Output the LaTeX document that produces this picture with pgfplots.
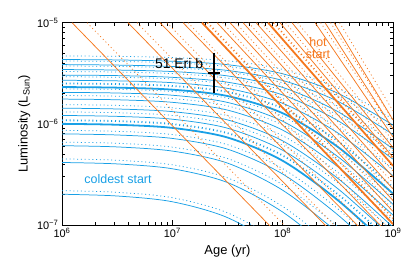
\documentclass[border=0pt]{standalone}
\usepackage{fontspec}
\setmainfont{Liberation Sans}
\usepackage{pgfplots}
\usepackage{pgfplotstable}
\pgfplotsset{compat=1.18}
\definecolor{cblue}{RGB}{25,160,230}
\definecolor{corange}{RGB}{245,120,30}

\pgfplotstableread{
age s1 s2 s3 s4 s5 s6 s7 s8 s9 s10 s11 s12 s13 s14 s15 d1 d2 d3 d4 d5 d6 d7 d8 d9 d10 d11 d12 d13 d14 d15
1e6 2.014e-7 4.150e-7 6.081e-7 7.962e-7 1.000e-6 1.211e-6 1.429e-6 1.758e-6 2.046e-6 2.312e-6 2.698e-6 3.034e-6 3.443e-6 3.855e-6 4.325e-6 2.185e-7 4.502e-7 6.596e-7 8.635e-7 1.085e-6 1.313e-6 1.549e-6 1.906e-6 2.219e-6 2.507e-6 2.925e-6 3.290e-6 3.734e-6 4.181e-6 4.689e-6
3.162e6 1.936e-7 4.018e-7 5.916e-7 7.762e-7 9.795e-7 1.186e-6 1.403e-6 1.730e-6 2.018e-6 2.280e-6 2.661e-6 2.999e-6 3.404e-6 3.811e-6 4.285e-6 2.107e-7 4.369e-7 6.430e-7 8.433e-7 1.064e-6 1.288e-6 1.523e-6 1.878e-6 2.191e-6 2.474e-6 2.887e-6 3.254e-6 3.694e-6 4.136e-6 4.649e-6
1e7 1.698e-7 3.597e-7 5.383e-7 7.178e-7 9.120e-7 1.112e-6 1.321e-6 1.633e-6 1.919e-6 2.178e-6 2.553e-6 2.884e-6 3.289e-6 3.690e-6 4.159e-6 1.863e-7 3.938e-7 5.884e-7 7.842e-7 9.952e-7 1.212e-6 1.440e-6 1.780e-6 2.090e-6 2.370e-6 2.779e-6 3.138e-6 3.577e-6 4.013e-6 4.521e-6
3.162e7 1.183e-7 2.630e-7 4.093e-7 5.623e-7 7.328e-7 9.057e-7 1.094e-6 1.368e-6 1.629e-6 1.884e-6 2.244e-6 2.582e-6 2.979e-6 3.373e-6 3.846e-6 1.320e-7 2.926e-7 4.539e-7 6.223e-7 8.094e-7 9.993e-7 1.206e-6 1.506e-6 1.792e-6 2.069e-6 2.461e-6 2.829e-6 3.259e-6 3.689e-6 4.203e-6
1e8 5.715e-8 1.343e-7 2.208e-7 3.192e-7 4.315e-7 5.483e-7 6.792e-7 8.670e-7 1.062e-6 1.274e-6 1.596e-6 1.932e-6 2.291e-6 2.685e-6 3.126e-6 6.510e-8 1.525e-7 2.501e-7 3.607e-7 4.866e-7 6.173e-7 7.635e-7 9.734e-7 1.190e-6 1.424e-6 1.780e-6 2.148e-6 2.542e-6 2.973e-6 3.454e-6
3.162e8 2.014e-8 4.909e-8 8.375e-8 1.259e-7 1.758e-7 2.286e-7 2.891e-7 3.767e-7 4.742e-7 5.916e-7 8.128e-7 1.076e-6 1.321e-6 1.671e-6 2.009e-6 2.323e-8 5.655e-8 9.636e-8 1.446e-7 2.018e-7 2.621e-7 3.311e-7 4.311e-7 5.422e-7 6.752e-7 9.247e-7 1.220e-6 1.494e-6 1.884e-6 2.260e-6
1e9 6.109e-9 1.510e-8 2.618e-8 3.999e-8 5.662e-8 7.447e-8 9.528e-8 1.253e-7 1.603e-7 2.042e-7 3.076e-7 4.477e-7 5.649e-7 7.852e-7 9.727e-7 7.080e-9 1.750e-8 3.031e-8 4.629e-8 6.551e-8 8.613e-8 1.102e-7 1.448e-7 1.852e-7 2.357e-7 3.545e-7 5.147e-7 6.488e-7 8.993e-7 1.112e-6
}\bluetab

\begin{document}
\begin{tikzpicture}
\begin{axis}[
  xmode=log, ymode=log,
  log basis x=10, log basis y=10,
  scale only axis, width=331bp, height=202.3bp,
  xmin=1e6, xmax=1e9, ymin=1e-7, ymax=1e-5,
  xtick={1e6,1e7,1e8,1e9},
  xticklabels={10\textsuperscript{6},10\textsuperscript{7},10\textsuperscript{8},10\textsuperscript{9}},
  ytick={1e-7,1e-6,1e-5},
  yticklabels={10\textsuperscript{−7},10\textsuperscript{−6},10\textsuperscript{−5}},
  minor xtick={2e6,3e6,4e6,5e6,6e6,7e6,8e6,9e6,2e7,3e7,4e7,5e7,6e7,7e7,8e7,9e7,2e8,3e8,4e8,5e8,6e8,7e8,8e8,9e8},
  minor ytick={2e-7,3e-7,4e-7,5e-7,6e-7,7e-7,8e-7,9e-7,2e-6,3e-6,4e-6,5e-6,6e-6,7e-6,8e-6,9e-6},
  tick align=inside, xtick pos=both, ytick pos=both,
  major tick length=5bp, minor tick length=3bp,
  tick style={black, line width=0.6pt},
  axis line style={line width=0.9pt},
  ticklabel style={font=\fontsize{11}{12}\selectfont},
  label style={font=\fontsize{13}{15}\selectfont},
  xlabel={Age (yr)}, ylabel={Luminosity (L\textsubscript{Sun})},
  clip=true,
  bthin/.style={cblue, line width=0.75pt, smooth, mark=none},
  bthick/.style={cblue, line width=1.8pt, smooth, mark=none},
  othin/.style={corange, line width=0.75pt, mark=none},
  othick/.style={corange, line width=1.8pt, mark=none},
  dots/.style={dash pattern=on 1pt off 2.8pt},
]
\pgfplotsinvokeforeach{1,2,3,4,6,7,8,9,11,12,13,14,15}{
  \addplot[bthin] table[x=age,y=s#1]{\bluetab};
  \addplot[bthin,dots] table[x=age,y=d#1]{\bluetab};
}
\pgfplotsinvokeforeach{5,10}{
  \addplot[bthick] table[x=age,y=s#1]{\bluetab};
  \addplot[bthick,dots] table[x=age,y=d#1]{\bluetab};
}
% hot start, solid
\addplot[othin] coordinates {(1.233e6,1e-5) (1e9,5.52e-9)};
\addplot[othin] coordinates {(3.963e6,1e-5) (1e9,2.04e-8)};
\addplot[othin] coordinates {(7.727e6,1e-5) (1e9,4.32e-8)};
\addplot[othin] coordinates {(1.250e7,1e-5) (1e9,7.40e-8)};
\addplot[othick] coordinates {(1.858e7,1e-5) (1e9,1.021e-7)};
\addplot[othin] coordinates {(2.541e7,1e-5) (1e9,1.361e-7)};
\addplot[othin] coordinates {(3.334e7,1e-5) (1e9,1.746e-7)};
\addplot[othin] coordinates {(4.375e7,1e-5) (1e9,2.27e-7)};
\addplot[othin] coordinates {(5.741e7,1e-5) (1e9,2.98e-7)};
\addplot[othick] coordinates {(7.379e7,1e-5) (1e9,3.85e-7)};
\addplot[othin] coordinates {(9.462e7,1e-5) (1e9,4.67e-7)};
\addplot[othin] coordinates {(1.216e8,1e-5) (1e9,5.82e-7)};
\addplot[othin] coordinates {(1.968e8,1e-5) (1e9,7.41e-7)};
\addplot[othin] coordinates {(2.421e8,1e-5) (1e9,8.97e-7)};
\addplot[othin] coordinates {(2.924e8,1e-5) (1e9,1.094e-6)};
% hot start, dotted
\addplot[othin,dots] coordinates {(1.687e6,1e-5) (1e9,7.83e-9)};
\addplot[othin,dots] coordinates {(4.786e6,1e-5) (1e9,2.52e-8)};
\addplot[othin,dots] coordinates {(8.93e6,1e-5) (1e9,5.07e-8)};
\addplot[othin,dots] coordinates {(1.387e7,1e-5) (1e9,8.30e-8)};
\addplot[othick,dots] coordinates {(2.084e7,1e-5) (1e9,1.167e-7)};
\addplot[othin,dots] coordinates {(2.851e7,1e-5) (1e9,1.556e-7)};
\addplot[othin,dots] coordinates {(3.741e7,1e-5) (1e9,2.005e-7)};
\addplot[othin,dots] coordinates {(4.909e7,1e-5) (1e9,2.61e-7)};
\addplot[othin,dots] coordinates {(6.442e7,1e-5) (1e9,3.43e-7)};
\addplot[othick,dots] coordinates {(8.279e7,1e-5) (1e9,4.44e-7)};
\addplot[othin,dots] coordinates {(1.062e8,1e-5) (1e9,5.42e-7)};
\addplot[othin,dots] coordinates {(1.365e8,1e-5) (1e9,6.79e-7)};
\addplot[othin,dots] coordinates {(2.208e8,1e-5) (1e9,8.91e-7)};
\addplot[othin,dots] coordinates {(2.716e8,1e-5) (1e9,1.091e-6)};
\addplot[othin,dots] coordinates {(3.281e8,1e-5) (1e9,1.345e-6)};
% 51 Eri b
\addplot[draw=none, mark=none,
  error bars/.cd, x dir=both, x explicit, y dir=both, y explicit,
  error mark=none, error bar style={draw=black, line width=1.6pt}]
  coordinates {(2.4e7,3.2e-6) += (0.3e7,1.78e-6) -= (0.3e7,1.2e-6)};
\node[font=\fontsize{14}{16}\selectfont, text=black] at (axis cs:1.15e7,3.99e-6) {51 Eri b};
\node[font=\fontsize{12.5}{14}\selectfont, text=cblue] at (axis cs:3.22e6,2.83e-7) {coldest start};
\node[font=\fontsize{12.5}{12}\selectfont, text=corange, align=center] at (axis cs:2.09e8,5.62e-6) {hot\\start};
\end{axis}
\pgfresetboundingbox
\path[use as bounding box] ([shift={(-62bp,-46bp)}]current axis.south west) rectangle ([shift={(14bp,22.7bp)}]current axis.north east);
\end{tikzpicture}
\end{document}
